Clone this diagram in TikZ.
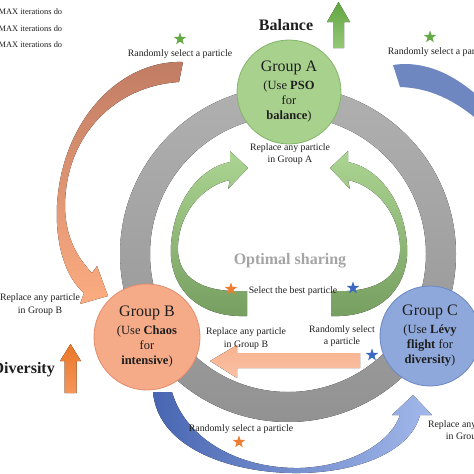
\documentclass[tikz,border=0pt]{standalone}
\usepackage{fontspec}
\setmainfont{Liberation Serif}
\usetikzlibrary{shapes.geometric}

\definecolor{txt}{RGB}{30,30,30}
\definecolor{ringA}{RGB}{176,176,176}
\definecolor{ringB}{RGB}{146,146,146}
\definecolor{grnL}{RGB}{172,212,146}
\definecolor{grnD}{RGB}{118,158,96}
\definecolor{grnC}{RGB}{169,209,142}
\definecolor{grnE}{RGB}{130,180,105}
\definecolor{orgB}{RGB}{245,170,136}
\definecolor{orgE}{RGB}{228,140,108}
\definecolor{bluC}{RGB}{143,168,219}
\definecolor{bluE}{RGB}{105,135,195}
\definecolor{brT}{RGB}{192,124,100}
\definecolor{brB}{RGB}{252,172,128}
\definecolor{bluD}{RGB}{72,102,178}
\definecolor{bluL}{RGB}{162,184,234}
\definecolor{bluM}{RGB}{110,135,192}
\definecolor{salm}{RGB}{248,178,142}
\definecolor{upG1}{RGB}{96,165,64}
\definecolor{upG2}{RGB}{150,200,120}
\definecolor{upO1}{RGB}{234,118,40}
\definecolor{upO2}{RGB}{245,150,90}
\definecolor{starO}{RGB}{237,125,49}
\definecolor{starG}{RGB}{100,170,70}
\definecolor{starB}{RGB}{60,105,195}
\definecolor{optg}{RGB}{165,165,165}

\tikzset{
  lbl/.style={font=\fontsize{9.8}{12.3}\selectfont, text=txt, align=center, inner sep=0pt},
  grpnode/.style={circle, align=center, inner sep=0pt, text=txt,
    font=\fontsize{12.5}{15}\selectfont, line width=0.8pt},
  starnode/.style={star, star points=5, star point ratio=2.5, minimum size=13pt,
    inner sep=0pt, draw=none},
  bigtxt/.style={font=\bfseries\fontsize{16}{18}\selectfont, inner sep=0pt, text=txt},
  grnarrow/.pic={
    \fill[top color=grnL, bottom color=grnD]
      (247,316) .. controls (195,318) and (168,285) .. (171,245)
      .. controls (174,200) and (200,168) .. (230,162)
      -- (230,151) -- (248,168) -- (228,189) -- (230,180)
      .. controls (205,185) and (180,210) .. (178,245)
      .. controls (176,280) and (205,293) .. (247,291) -- cycle;
  },
}

\begin{document}
\begin{tikzpicture}[x=1pt,y=-1pt]
\useasboundingbox (0,0) rectangle (474,474);
\clip (0,0) rectangle (474,474);

% gray ring
\fill[even odd rule, top color=ringA, bottom color=ringB]
  (288,254) circle[radius=168] (288,254) circle[radius=138];

% inner green arrows
\pic at (0,0) {grnarrow};
\pic[xscale=-1] at (578,0) {grnarrow};

% big orange arrow (top-left to Group B)
\fill[top color=brT, bottom color=brB]
  (183,62) .. controls (120,60) and (62,120) .. (57,205)
  .. controls (55,245) and (66,278) .. (84,293)
  -- (80,304) -- (108,296) -- (97,266) -- (92,273)
  .. controls (78,258) and (65,238) .. (65,205)
  .. controls (66,135) and (115,86) .. (179,82) -- cycle;

% top-right blue arrow
\fill[bluM]
  (393,65) .. controls (425,60) and (455,75) .. (480,98)
  -- (480,122) .. controls (455,100) and (430,88) .. (400,87) -- cycle;

% bottom blue arrow
\fill[left color=bluD, right color=bluL]
  (153,392) .. controls (158,450) and (235,474) .. (300,473)
  .. controls (365,472) and (412,448) .. (420,415)
  -- (432,415) -- (413,395) -- (392,415) -- (400,415)
  .. controls (392,440) and (355,466) .. (300,468)
  .. controls (240,469) and (186,440) .. (172,392) -- cycle;

% horizontal orange arrow
\fill[top color=salm, bottom color=salm!80!white]
  (360,353) -- (237,353) -- (237,345) -- (210,361) -- (237,378)
  -- (237,368) -- (360,368) -- cycle;

% up arrows
\fill[top color=upG1, bottom color=upG2]
  (333,48) -- (333,22) -- (327,22) -- (338.5,2) -- (350,22) -- (344,22) -- (344,48) -- cycle;
\fill[top color=upO1, bottom color=upO2]
  (64.5,393) -- (64.5,361) -- (60,361) -- (70.5,344) -- (81,361) -- (76.5,361) -- (76.5,393) -- cycle;

% group circles
\node[grpnode, minimum size=104pt, fill=grnC, draw=grnE] (grpA) at (289,92)
  {{\fontsize{16}{18}\selectfont Group A}\\[3pt](Use \textbf{PSO}\\for\\\textbf{balance})};
\node[grpnode, minimum size=106pt, fill=orgB, draw=orgE] (grpB) at (147,337)
  {{\fontsize{16}{18}\selectfont Group B}\\[3pt](Use \textbf{Chaos}\\for\\\textbf{intensive})};
\node[grpnode, minimum size=100pt, fill=bluC, draw=bluE] (grpC) at (430,336)
  {{\fontsize{16}{18}\selectfont Group C}\\[3pt](Use \textbf{Lévy}\\\textbf{flight} for\\\textbf{diversity})};

% top-left texts
\node[lbl, font=\fontsize{8.4}{10}\selectfont, anchor=west] (it1) at (-1.5,12) {MAX iterations do};
\node[lbl, font=\fontsize{8.4}{10}\selectfont, anchor=west] (it2) at (-1.5,28.5) {MAX iterations do};
\node[lbl, font=\fontsize{8.4}{10}\selectfont, anchor=west] (it3) at (-1.5,45) {MAX iterations do};

% headings
\node[bigtxt] (bal) at (286,25) {Balance};
\node[bigtxt, anchor=east] (div) at (55,370) {Diversity};
\node[bigtxt, text=optg] (opt) at (290,261) {Optimal sharing};

% labels
\node[lbl] (rsTL) at (180,54) {Randomly select a particle};
\node[lbl] (rsTR) at (440,52) {Randomly select a particle};
\node[lbl] (raA) at (290,154) {Replace any particle\\in Group A};
\node[lbl] (sbp) at (293,291) {Select the best particle};
\node[lbl] (raBc) at (246,338.5) {Replace any particle\\in Group B};
\node[lbl] (rsC) at (342,336) {Randomly select\\a particle};
\node[lbl] (raBl) at (40,304.5) {Replace any particle\\in Group B};
\node[lbl] (rsB) at (241,429) {Randomly select a particle};
\node[lbl] (raC) at (468,431) {Replace any particle\\in Group C};

% stars
\node[starnode, fill=starG] (s1) at (180,39) {};
\node[starnode, fill=starG] (s2) at (430,37) {};
\node[starnode, fill=starO] (s3) at (231,289) {};
\node[starnode, fill=starB] (s4) at (353,288) {};
\node[starnode, fill=starB] (s5) at (372,355) {};
\node[starnode, fill=starO] (s6) at (239,442) {};
\end{tikzpicture}
\end{document}
